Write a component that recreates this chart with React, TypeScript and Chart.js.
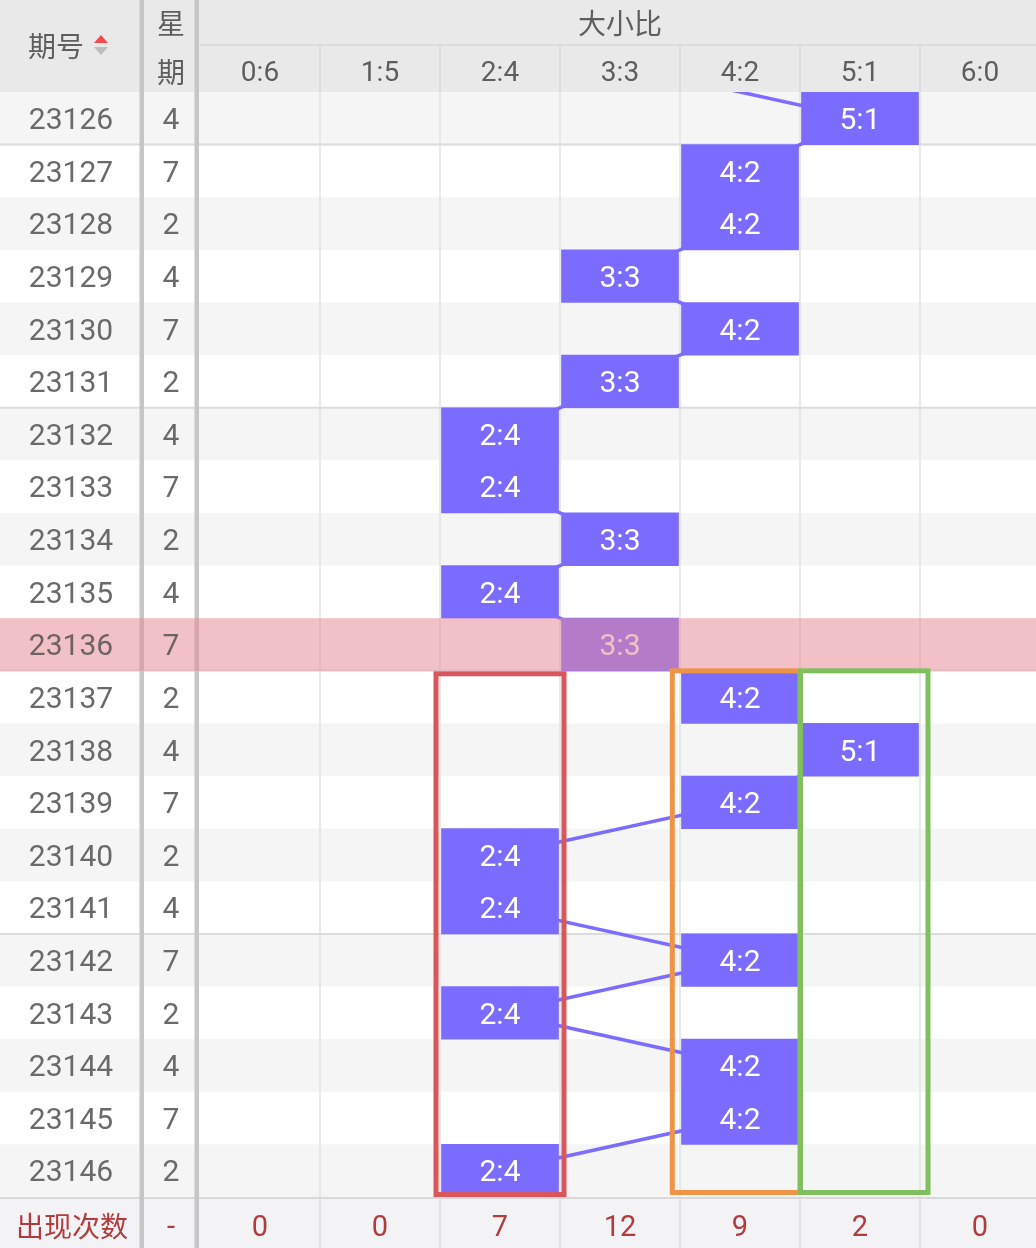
import React, { useEffect, useRef } from "react";
import Chart from "chart.js/auto";

// ---------------- data ----------------
const periods = [
  "23126", "23127", "23128", "23129", "23130", "23131", "23132",
  "23133", "23134", "23135", "23136", "23137", "23138", "23139",
  "23140", "23141", "23142", "23143", "23144", "23145", "23146",
];
const weekdays = ["4", "7", "2", "4", "7", "2", "4", "7", "2", "4", "7", "2", "4", "7", "2", "4", "7", "2", "4", "7", "2"];
const ratioLabels = ["0:6", "1:5", "2:4", "3:3", "4:2", "5:1", "6:0"];
const drawnRatios = [
  "5:1", "4:2", "4:2", "3:3", "4:2", "3:3", "2:4",
  "2:4", "3:3", "2:4", "3:3", "4:2", "5:1", "4:2",
  "2:4", "2:4", "4:2", "2:4", "4:2", "4:2", "2:4",
];
const previousPeriod = "23125";
const previousRatio = "3:3";
const occurrenceCounts = ["0", "0", "7", "12", "9", "2", "0"];
const highlightedPeriod = "23136";
const groupEndPeriods = ["23126", "23131", "23136", "23141"];
const boxedRatios = ["2:4", "4:2", "5:1"];
const boxStartPeriod = "23137";
const boxEndPeriod = "23146";

const periodHeader = "期号";
const weekHeader = ["星", "期"];
const groupHeader = "大小比";
const footerTitle = "出现次数";
const footerWeek = "-";

// ---------------- styles ----------------
const W = 1036;
const H = 1248;
const HEADER_H = 92;
const HEADER_SPLIT = 45;
const FOOTER_H = 51;
const LEFT_W = 200;
const COL_W = 120;
const PERIOD_X = 71;
const WEEK_X = 171;
const BLOCK_INSET = 0.0125;
const BLOCK = "#7b6cff";
const FONT = "Roboto, 'Noto Sans CJK SC', sans-serif";
const CJK_FONT = "'Noto Sans CJK SC', Roboto, sans-serif";
const TEXT = "#6a6a6a";
const HL_TEXT = "#6e6264";
const HEAD_TEXT = "#5e5e5e";
const RED_TEXT = "#b23b3d";
const BAND = "#f5f5f5";
const HEAD_BG = "#e9e9e9";
const FOOT_BG = "#f3f3f6";
const GRID = "#e2e2e2";
const GROUP_LINE = "#dcdcdc";
const DIVIDER = "#c6c6c6";
const OVERLAY = "rgba(230,138,151,0.53)";
const BOX_STYLE: Record<string, { color: string; dl: number; dr: number; dt: number; db: number }> = {
  "2:4": { color: "#d9575b", dl: -4, dr: 4, dt: 3, db: -2.5 },
  "4:2": { color: "#ee9448", dl: -7.7, dr: 0, dt: 0, db: -4.5 },
  "5:1": { color: "#80bf5e", dl: 0.5, dr: 8, dt: 0, db: -4.5 },
};

function text(ctx: CanvasRenderingContext2D, s: string, x: number, cy: number, size: number, color: string, font = FONT, k = 0.36) {
  ctx.font = `${size}px ${font}`;
  ctx.fillStyle = color;
  ctx.textAlign = "center";
  ctx.textBaseline = "alphabetic";
  ctx.fillText(s, x, cy + size * k);
}

function vline(ctx: CanvasRenderingContext2D, x: number, y0: number, y1: number, color: string, w: number) {
  ctx.strokeStyle = color;
  ctx.lineWidth = w;
  ctx.beginPath();
  ctx.moveTo(x, y0);
  ctx.lineTo(x, y1);
  ctx.stroke();
}

function hline(ctx: CanvasRenderingContext2D, y: number, x0: number, x1: number, color: string, w: number) {
  ctx.strokeStyle = color;
  ctx.lineWidth = w;
  ctx.beginPath();
  ctx.moveTo(x0, y);
  ctx.lineTo(x1, y);
  ctx.stroke();
}

function dividers(ctx: CanvasRenderingContext2D, y0: number, y1: number) {
  ctx.fillStyle = DIVIDER;
  ctx.fillRect(139.5, y0, 4.5, y1 - y0);
  ctx.fillRect(194.5, y0, 4.5, y1 - y0);
}

const tablePlugin = {
  id: "trendTable",
  beforeDatasetsDraw(chart: any) {
    const { ctx, chartArea, scales } = chart;
    const x = scales.x;
    const y = scales.y;
    const rowH = Math.abs(y.getPixelForValue(periods[1]) - y.getPixelForValue(periods[0]));
    ctx.save();
    ctx.fillStyle = "#ffffff";
    ctx.fillRect(0, 0, W, H);
    periods.forEach((p, i) => {
      const cy = y.getPixelForValue(p);
      if (i % 2 === 0 && p !== highlightedPeriod) {
        ctx.fillStyle = BAND;
        ctx.fillRect(0, cy - rowH / 2, W, rowH);
      }
    });
    for (let k = 1; k < ratioLabels.length; k++) {
      const px = x.getPixelForValue(k);
      vline(ctx, px, chartArea.top, chartArea.bottom, GRID, 1.5);
    }
    groupEndPeriods.forEach((p) => {
      const yb = y.getPixelForValue(p) + rowH / 2;
      hline(ctx, yb, 0, W, GROUP_LINE, 2);
    });
    dividers(ctx, chartArea.top, chartArea.bottom);
    periods.forEach((p, i) => {
      if (p === highlightedPeriod) return;
      const cy = y.getPixelForValue(p);
      text(ctx, p, PERIOD_X, cy, 30, TEXT);
      text(ctx, weekdays[i], WEEK_X, cy, 30, TEXT);
    });
    ctx.restore();
  },
  afterDatasetsDraw(chart: any) {
    const { ctx, chartArea, scales } = chart;
    const x = scales.x;
    const y = scales.y;
    const rowH = Math.abs(y.getPixelForValue(periods[1]) - y.getPixelForValue(periods[0]));
    ctx.save();
    // block labels
    const meta = chart.getDatasetMeta(1);
    meta.data.forEach((el: any, i: number) => {
      const pr = el.getProps(["x", "y", "base"], true);
      text(ctx, drawnRatios[i], (pr.x + pr.base) / 2, pr.y, 30, "#ffffff");
    });
    // highlighted row overlay
    const hy = y.getPixelForValue(highlightedPeriod);
    ctx.fillStyle = OVERLAY;
    ctx.fillRect(0, hy - rowH / 2, W, rowH);
    const hi = periods.indexOf(highlightedPeriod);
    text(ctx, periods[hi], PERIOD_X, hy, 30, HL_TEXT);
    text(ctx, weekdays[hi], WEEK_X, hy, 30, HL_TEXT);
    // annotation boxes
    const top = y.getPixelForValue(boxStartPeriod) - rowH / 2;
    const bottom = y.getPixelForValue(boxEndPeriod) + rowH / 2;
    boxedRatios.forEach((r) => {
      const k = ratioLabels.indexOf(r);
      const st = BOX_STYLE[r];
      const l = x.getPixelForValue(k) + st.dl;
      const rr = x.getPixelForValue(k + 1) + st.dr;
      const t = top + st.dt;
      const b = bottom + st.db;
      ctx.strokeStyle = st.color;
      ctx.lineWidth = 5;
      ctx.strokeRect(l, t, rr - l, b - t);
    });
    // header
    ctx.fillStyle = HEAD_BG;
    ctx.fillRect(0, 0, W, chartArea.top);
    hline(ctx, HEADER_SPLIT, chartArea.left, W, "#d8d8d8", 1.5);
    for (let k = 1; k < ratioLabels.length; k++) {
      vline(ctx, x.getPixelForValue(k), HEADER_SPLIT, chartArea.top, "#d8d8d8", 1.5);
    }
    ratioLabels.forEach((r, k) => {
      text(ctx, r, x.getPixelForValue(k + 0.5), 70.5, 28, HEAD_TEXT);
    });
    text(ctx, groupHeader, (chartArea.left + x.getPixelForValue(ratioLabels.length)) / 2, 23, 28, HEAD_TEXT, CJK_FONT, 0.38);
    text(ctx, periodHeader, 56, 46, 28, HEAD_TEXT, CJK_FONT, 0.38);
    text(ctx, weekHeader[0], WEEK_X, 23, 28, HEAD_TEXT, CJK_FONT, 0.38);
    text(ctx, weekHeader[1], WEEK_X, 72, 28, HEAD_TEXT, CJK_FONT, 0.38);
    ctx.fillStyle = "#f04a4a";
    ctx.beginPath();
    ctx.moveTo(94, 43);
    ctx.lineTo(108, 43);
    ctx.lineTo(101, 35);
    ctx.closePath();
    ctx.fill();
    ctx.fillStyle = "#bdbdbd";
    ctx.beginPath();
    ctx.moveTo(94, 47);
    ctx.lineTo(108, 47);
    ctx.lineTo(101, 55);
    ctx.closePath();
    ctx.fill();
    dividers(ctx, 0, chartArea.top);
    // footer
    ctx.fillStyle = FOOT_BG;
    ctx.fillRect(0, chartArea.bottom, W, H - chartArea.bottom);
    hline(ctx, chartArea.bottom + 1, 0, W, "#d8d8d8", 2);
    for (let k = 1; k < ratioLabels.length; k++) {
      vline(ctx, x.getPixelForValue(k), chartArea.bottom, H, "#dcdcdc", 1.5);
    }
    const fy = chartArea.bottom + 29;
    text(ctx, footerTitle, 72, fy, 28, RED_TEXT, CJK_FONT, 0.38);
    text(ctx, footerWeek, WEEK_X, fy, 29, RED_TEXT);
    occurrenceCounts.forEach((c, k) => {
      text(ctx, c, x.getPixelForValue(k + 0.5), fy, 29, RED_TEXT);
    });
    dividers(ctx, chartArea.bottom, H);
    ctx.restore();
  },
};

export default function App() {
  const ref = useRef<HTMLCanvasElement | null>(null);
  useEffect(() => {
    if (!ref.current) return;
    const labels = [previousPeriod, ...periods];
    const col = (r: string) => ratioLabels.indexOf(r);
    const lineData = [
      { y: previousPeriod, x: col(previousRatio) + 0.5 },
      ...periods.map((p, i) => ({ y: p, x: col(drawnRatios[i]) + 0.5 })),
    ];
    const barData = periods.map((p, i) => ({
      y: p,
      x: [col(drawnRatios[i]) + BLOCK_INSET, col(drawnRatios[i]) + 1 - BLOCK_INSET],
    }));
    const chart = new Chart(ref.current, {
      type: "bar",
      data: {
        labels,
        datasets: [
          {
            type: "line",
            data: lineData as any,
            borderColor: BLOCK,
            backgroundColor: BLOCK,
            borderWidth: 3.5,
            pointRadius: 0,
            fill: false,
            tension: 0,
            order: 2,
            indexAxis: "y",
          } as any,
          {
            type: "bar",
            data: barData as any,
            backgroundColor: BLOCK,
            borderWidth: 0,
            barPercentage: 1,
            categoryPercentage: 1,
            order: 1,
          } as any,
        ],
      },
      options: {
        indexAxis: "y",
        responsive: false,
        maintainAspectRatio: false,
        animation: false,
        devicePixelRatio: 1,
        events: [],
        layout: { padding: { left: LEFT_W, top: HEADER_H, right: 0, bottom: FOOTER_H } },
        scales: {
          x: { type: "linear", min: 0, max: ratioLabels.length - 4 / COL_W, display: false },
          y: {
            type: "category",
            labels,
            min: periods[0],
            max: periods[periods.length - 1],
            offset: true,
            display: false,
          },
        },
        plugins: { legend: { display: false }, tooltip: { enabled: false } },
      } as any,
      plugins: [tablePlugin as any],
    });
    return () => chart.destroy();
  }, []);
  return (
    <div style={{ position: "absolute", left: 0, top: 0, width: W, height: H }}>
      <canvas ref={ref} width={W} height={H} style={{ display: "block" }} />
    </div>
  );
}
